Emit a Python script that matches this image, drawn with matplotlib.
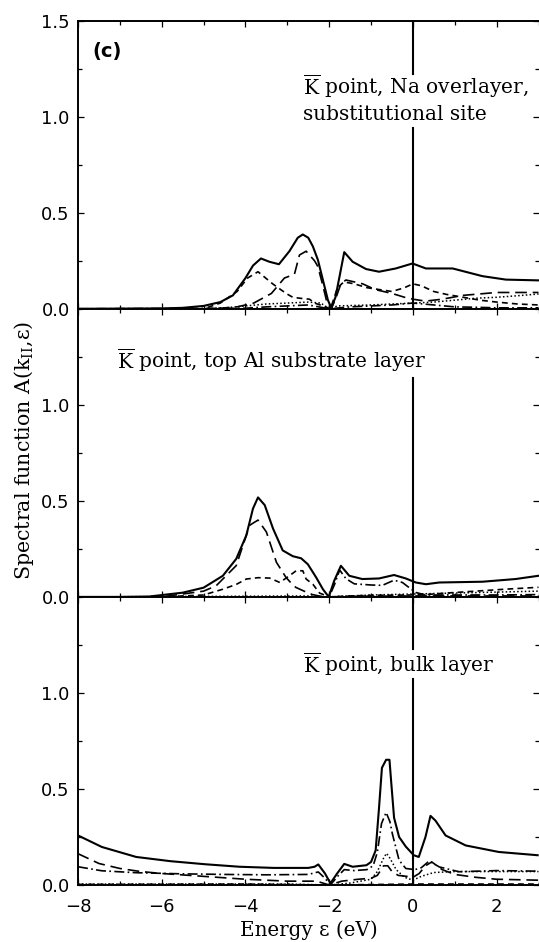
import matplotlib
matplotlib.use("Agg")
import matplotlib.pyplot as plt
from matplotlib.ticker import MultipleLocator, FixedLocator

plt.rcParams["mathtext.fontset"] = "dejavuserif"

# ---------------- data ----------------
# Top panel: K point, Na overlayer, substitutional site
top_E_total = [-8, -6, -5.5, -5.0, -4.6, -4.3, -4.0, -3.82, -3.63, -3.43, -3.2, -2.95, -2.75, -2.63,
               -2.5, -2.39, -2.27, -2.15, -2.03, -1.95, -1.85, -1.76, -1.64, -1.44, -1.12, -0.81,
               -0.41, -0.01, 0.31, 0.95, 1.66, 2.22, 3.0]
top_V_total = [0, 0.002, 0.005, 0.015, 0.035, 0.07, 0.16, 0.225, 0.262, 0.245, 0.232, 0.30, 0.37, 0.387,
               0.37, 0.325, 0.255, 0.15, 0.045, 0.005, 0.06, 0.16, 0.295, 0.245, 0.207, 0.193,
               0.21, 0.236, 0.21, 0.21, 0.17, 0.152, 0.148]
top_E_long = [-8, -5, -4.6, -4.2, -3.8, -3.38, -3.07, -2.83, -2.71, -2.55, -2.35, -2.27, -2.15, -2.05,
              -1.95, -1.85, -1.72, -1.6, -1.2, -0.9, -0.5, -0.2, 0.0, 0.3, 0.7, 1.2, 2.0, 3.0]
top_V_long = [0, 0, 0.003, 0.01, 0.03, 0.08, 0.16, 0.18, 0.28, 0.30, 0.25, 0.22, 0.12, 0.03,
              0.0, 0.05, 0.13, 0.15, 0.13, 0.10, 0.08, 0.06, 0.05, 0.04, 0.05, 0.07, 0.085, 0.085]
top_E_short = [-8, -5, -4.6, -4.2, -3.95, -3.7, -3.35, -3.03, -2.87, -2.7, -2.47, -2.35, -2.15, -1.97,
               -1.8, -1.65, -1.4, -1.1, -0.8, -0.5, -0.2, 0.0, 0.2, 0.5, 0.8, 1.2, 1.6, 2.0, 2.5, 3.0]
top_V_short = [0, 0, 0.03, 0.09, 0.16, 0.193, 0.13, 0.08, 0.06, 0.055, 0.05, 0.03, 0.015, 0.0,
               0.11, 0.14, 0.13, 0.11, 0.10, 0.09, 0.11, 0.13, 0.12, 0.09, 0.075, 0.06, 0.045, 0.035, 0.025, 0.02]
top_E_dot = [-8, -5, -4.5, -4.0, -3.5, -3.0, -2.5, -2.2, -2.0, -1.8, -1.0, -0.5, 0.0, 0.5, 1.0, 1.5, 2.0, 2.5, 3.0]
top_V_dot = [0, 0, 0.005, 0.015, 0.025, 0.03, 0.035, 0.03, 0.0, 0.015, 0.02, 0.025, 0.03, 0.035, 0.045,
             0.055, 0.06, 0.068, 0.077]
top_E_dashdot = [-8, -4, -3.5, -3.0, -2.5, -2.0, -1.5, -1.0, -0.5, 0.0, 0.5, 1.0, 1.5, 2.0, 3.0]
top_V_dashdot = [0, 0.003, 0.01, 0.015, 0.02, 0, 0.01, 0.015, 0.02, 0.03, 0.02, 0.01, 0.008, 0.005, 0.005]

# Middle panel: K point, top Al substrate layer
mid_E_total = [-8, -7, -6.3, -5.5, -5.0, -4.54, -4.22, -3.98, -3.82, -3.70, -3.54, -3.34, -3.11, -2.87,
               -2.67, -2.51, -2.31, -2.15, -2.01, -1.88, -1.72, -1.52, -1.21, -0.81, -0.45, -0.17,
               0.07, 0.31, 0.63, 1.66, 2.45, 3.0]
mid_V_total = [0, 0, 0.002, 0.022, 0.048, 0.11, 0.198, 0.32, 0.46, 0.518, 0.478, 0.355, 0.242, 0.212,
               0.201, 0.17, 0.101, 0.04, 0.0, 0.084, 0.162, 0.11, 0.093, 0.096, 0.114, 0.096,
               0.075, 0.066, 0.075, 0.079, 0.093, 0.11]
mid_E_long = [-8, -6, -5.0, -4.7, -4.22, -3.9, -3.7, -3.5, -3.26, -3.03, -2.9, -2.8, -2.6, -2.4, -2.2,
              -2.0, -1.5, 0.0, 1.0, 2.0, 3.0]
mid_V_long = [0, 0, 0.03, 0.058, 0.163, 0.373, 0.40, 0.338, 0.18, 0.101, 0.07, 0.05, 0.03, 0.012, 0.003,
              0, 0.003, 0.005, 0.005, 0.005, 0.005]
mid_E_short = [-8, -6, -5.0, -4.54, -4.22, -3.98, -3.7, -3.42, -3.18, -2.95, -2.79, -2.63, -2.55, -2.39,
               -2.23, -2.0, -1.5, -1.0, 0.0, 0.3, 0.8, 1.5, 2.2, 3.0]
mid_V_short = [0, 0, 0.01, 0.04, 0.065, 0.093, 0.10, 0.098, 0.075, 0.11, 0.136, 0.136, 0.093, 0.066,
               0.02, 0, 0.005, 0.008, 0.01, 0.012, 0.02, 0.03, 0.04, 0.05]
mid_E_dashdot = [-8, -2.5, -2.0, -1.87, -1.75, -1.6, -1.4, -1.0, -0.73, -0.45, -0.25, -0.1, 0.07, 0.3, 1.0, 2.0, 3.0]
mid_V_dashdot = [0, 0, 0, 0.066, 0.14, 0.095, 0.068, 0.062, 0.06, 0.087, 0.075, 0.05, 0.023, 0.01, 0.01, 0.01, 0.012]
mid_E_dot = [-8, -2.5, -2.0, -1.0, 0.0, 1.0, 2.0, 3.0]
mid_V_dot = [0, 0.005, 0, 0.01, 0.015, 0.02, 0.025, 0.03]

# Bottom panel: K point, bulk layer
bot_E_total = [-8, -7.43, -6.61, -5.79, -4.96, -4.14, -3.32, -2.5, -2.35, -2.26, -2.1, -1.97, -1.81,
               -1.64, -1.44, -1.11, -1.0, -0.89, -0.81, -0.74, -0.64, -0.56, -0.52, -0.45, -0.33,
               -0.17, 0.02, 0.14, 0.3, 0.42, 0.54, 0.78, 1.26, 2.05, 2.98]
bot_V_total = [0.258, 0.198, 0.146, 0.124, 0.108, 0.095, 0.089, 0.089, 0.095, 0.107, 0.06, 0.009, 0.06,
               0.11, 0.095, 0.103, 0.12, 0.18, 0.40, 0.61, 0.652, 0.652, 0.54, 0.35, 0.25,
               0.20, 0.155, 0.146, 0.25, 0.36, 0.335, 0.258, 0.206, 0.172, 0.155]
bot_E_dashdot = [-8, -7.43, -6.61, -5.5, -4.5, -3.5, -2.5, -2.26, -2.1, -1.97, -1.8, -1.64, -1.4, -1.1,
                 -0.95, -0.85, -0.75, -0.64, -0.55, -0.49, -0.33, -0.17, 0.05, 0.2, 0.39, 0.63, 1.1, 2.0, 3.0]
bot_V_dashdot = [0.095, 0.074, 0.064, 0.058, 0.055, 0.053, 0.055, 0.068, 0.035, 0.0, 0.045, 0.08, 0.075, 0.08,
                 0.1, 0.17, 0.32, 0.378, 0.33, 0.266, 0.129, 0.086, 0.08, 0.09, 0.125, 0.094, 0.069, 0.075, 0.072]
bot_E_long = [-8, -7.5, -7.0, -6.5, -6.0, -5.0, -4.0, -3.0, -2.3, -2.0, -1.7, -1.3, -1.0, -0.85, -0.7,
              -0.6, -0.5, -0.35, -0.15, 0.0, 0.15, 0.3, 0.45, 0.7, 1.0, 1.5, 2.0, 3.0]
bot_V_long = [0.163, 0.112, 0.086, 0.07, 0.06, 0.045, 0.03, 0.02, 0.02, 0.0, 0.02, 0.03, 0.035, 0.05, 0.1,
              0.1, 0.07, 0.05, 0.045, 0.04, 0.06, 0.1, 0.12, 0.08, 0.055, 0.04, 0.03, 0.025]
bot_E_dot = [-8, -5, -3, -2.0, -1.5, -1.0, -0.85, -0.7, -0.63, -0.55, -0.4, -0.2, 0.0, 0.2, 0.5, 1.0, 2.0, 3.0]
bot_V_dot = [0.005, 0.005, 0.005, 0.0, 0.01, 0.03, 0.07, 0.14, 0.165, 0.14, 0.08, 0.04, 0.025, 0.045,
             0.065, 0.07, 0.07, 0.07]
bot_E_short = [-8, -4, -2, 0, 3]
bot_V_short = [0.003, 0.005, 0, 0.005, 0.005]

kbar = r"$\overline{\mathrm{K}}$"
panel_labels = [[kbar + " point, Na overlayer,", "substitutional site"],
                [kbar + " point, top Al substrate layer"],
                [kbar + " point, bulk layer"]]
xticks = [-8, -6, -4, -2, 0, 2]

# ---------------- figure ----------------
W, H = 539, 942
fig = plt.figure(figsize=(W / 100, H / 100), dpi=100)
left, right = 78 / W, 538.5 / W
top, bottom = 1 - 20.7 / H, 1 - 885 / H
ph = (top - bottom) / 3

serif = "DejaVu Serif"
styles = {
    "total": dict(color="black", lw=1.5, ls="-"),
    "long": dict(color="black", lw=1.2, ls=(0, (7, 3.5))),
    "short": dict(color="black", lw=1.2, ls=(0, (3.5, 2.5))),
    "dot": dict(color="black", lw=1.1, ls=(0, (1, 1.5))),
    "dashdot": dict(color="black", lw=1.2, ls=(0, (6, 2, 1, 2))),
}

panels = [
    dict(series=[("total", top_E_total, top_V_total), ("long", top_E_long, top_V_long),
                 ("short", top_E_short, top_V_short), ("dot", top_E_dot, top_V_dot),
                 ("dashdot", top_E_dashdot, top_V_dashdot)],
         vsegs=[(0, 0.94), (1.22, 1.5)], lx=-2.63, ly=[1.16, 1.013],
         yticks=[0, 0.5, 1.0, 1.5]),
    dict(series=[("total", mid_E_total, mid_V_total), ("long", mid_E_long, mid_V_long),
                 ("short", mid_E_short, mid_V_short), ("dot", mid_E_dot, mid_V_dot),
                 ("dashdot", mid_E_dashdot, mid_V_dashdot)],
         vsegs=[(0, 1.14)], lx=-7.06, ly=[1.235],
         yticks=[0, 0.5, 1.0]),
    dict(series=[("total", bot_E_total, bot_V_total), ("long", bot_E_long, bot_V_long),
                 ("short", bot_E_short, bot_V_short), ("dot", bot_E_dot, bot_V_dot),
                 ("dashdot", bot_E_dashdot, bot_V_dashdot)],
         vsegs=[(0, 1.075), (1.23, 1.5)], lx=-2.63, ly=[1.15],
         yticks=[0, 0.5, 1.0]),
]

axes = []
for i, p in enumerate(panels):
    ax = fig.add_axes([left, top - (i + 1) * ph, right - left, ph])
    axes.append(ax)
    for key, E, V in p["series"]:
        ax.plot(E, V, **styles[key], zorder=3)
    for y0, y1 in p["vsegs"]:
        ax.plot([0, 0], [y0, y1], color="black", lw=1.5, zorder=2)
    for line, yy in zip(panel_labels[i], p["ly"]):
        ax.text(p["lx"], yy, line, family=serif, fontsize=14.5, ha="left", va="center")
    ax.set_xlim(-8, 3)
    ax.set_ylim(0, 1.5)
    ax.yaxis.set_major_locator(FixedLocator(p["yticks"]))
    ax.set_yticklabels([f"{t:.1f}" for t in p["yticks"]])
    ax.yaxis.set_minor_locator(MultipleLocator(0.25))
    ax.xaxis.set_major_locator(FixedLocator(xticks))
    ax.xaxis.set_minor_locator(MultipleLocator(1))
    ax.tick_params(which="both", direction="in", top=True, right=True, width=0.9)
    ax.tick_params(which="major", length=4)
    ax.tick_params(which="minor", length=3)
    ax.tick_params(axis="y", labelsize=13, pad=6)
    ax.tick_params(axis="x", labelsize=13, pad=9)
    for s in ["left", "bottom", "top"]:
        ax.spines[s].set_linewidth(1.4)
    ax.spines["right"].set_linewidth(0.7)
    ax.spines["right"].set_color("#555555")
    if i < 2:
        ax.tick_params(axis="x", labelbottom=False)
    else:
        ax.set_xticklabels(["\u22128", "\u22126", "\u22124", "\u22122", "0", "2"])

axes[0].text(-7.3, 1.34, "(c)", fontsize=14, fontweight="bold", ha="center", va="center")

fig.text(309 / W, 1 - 930 / H, "Energy \u03b5 (eV)", family=serif, fontsize=14.3, ha="center", va="center")
fig.text(24 / W, 1 - 450 / H, "Spectral function A(k$_{\\mathregular{II}}$,\u03b5)", family=serif,
         fontsize=14.8, rotation=90, ha="center", va="center")

fig.savefig("out.png", dpi=100)
